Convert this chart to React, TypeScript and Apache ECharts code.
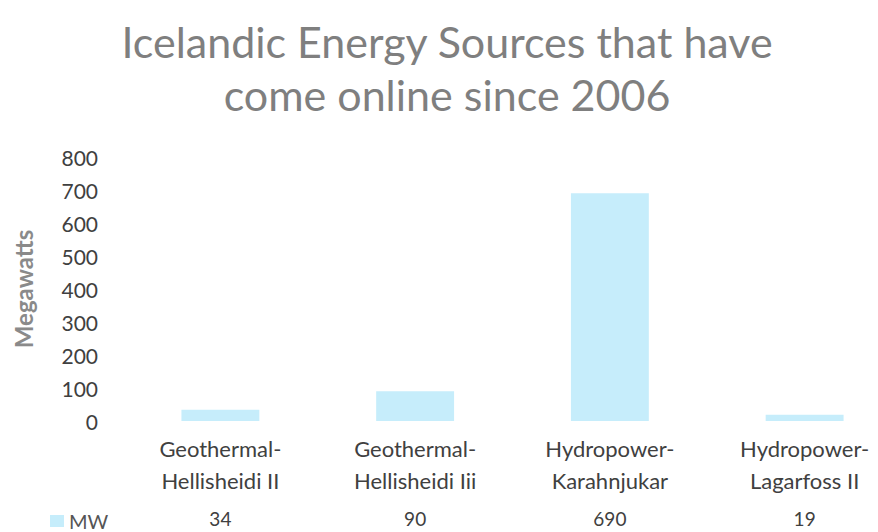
import React, { useEffect, useRef } from "react";
import * as echarts from "echarts";

const categories = [
  "Geothermal-\nHellisheidi II",
  "Geothermal-\nHellisheidi Iii",
  "Hydropower-\nKarahnjukar",
  "Hydropower-\nLagarfoss II",
];
const mwValues = [34, 90, 690, 19];
const yTicks = { min: 0, max: 800, interval: 100 };
const titleText = "Icelandic Energy Sources that have\ncome online since 2006";
const seriesName = "MW";

export default function App() {
  const ref = useRef<HTMLDivElement>(null);
  useEffect(() => {
    if (!ref.current) return;
    const chart = echarts.init(ref.current, null, { renderer: "svg" });
    const font = "Lato, 'Open Sans', sans-serif";
    chart.setOption({
      animation: false,
      backgroundColor: "#ffffff",
      title: {
        text: titleText,
        left: 442,
        textAlign: "center",
        top: 10,
        textStyle: {
          fontFamily: font,
          fontSize: 43,
          fontWeight: "normal",
          color: "#7f7f7f",
          lineHeight: 53,
        },
      },
      legend: {
        data: [seriesName],
        left: 50,
        top: 511,
        padding: 0,
        icon: "rect",
        itemWidth: 14,
        itemHeight: 12,
        itemGap: 6,
        textStyle: { fontFamily: font, fontSize: 20, color: "#555", lineHeight: 20 },
      },
      grid: { left: 123, right: 0, top: 157, bottom: 111, containLabel: false },
      xAxis: [
        {
          type: "category",
          data: categories,
          axisLine: { show: false },
          axisTick: { show: false },
          axisLabel: {
            fontFamily: font,
            fontSize: 22,
            color: "#404040",
            lineHeight: 32,
            margin: 11,
            interval: 0,
          },
        },
        {
          type: "category",
          position: "bottom",
          offset: 80,
          data: mwValues.map(String),
          axisLine: { show: false },
          axisTick: { show: false },
          axisLabel: { fontFamily: font, fontSize: 19, lineHeight: 19, color: "#404040", interval: 0 },
        },
      ],
      yAxis: {
        type: "value",
        min: yTicks.min,
        max: yTicks.max,
        interval: yTicks.interval,
        name: "Megawatts",
        nameLocation: "middle",
        nameGap: 88,
        nameRotate: 90,
        nameTextStyle: { fontFamily: font, fontSize: 24, color: "#8a8a8a", fontWeight: "bold" },
        axisLine: { show: false },
        axisTick: { show: false },
        splitLine: { show: false },
        axisLabel: { fontFamily: font, fontSize: 21, color: "#404040", margin: 25 },
      },
      series: [
        {
          name: seriesName,
          type: "bar",
          data: mwValues,
          xAxisIndex: 0,
          barWidth: "40%",
          itemStyle: { color: "#c6edfb" },
        },
      ],
    });
    return () => chart.dispose();
  }, []);
  return (
    <div style={{ position: "absolute", left: 0, top: 0, width: 878, height: 532, overflow: "hidden" }}>
      <div ref={ref} style={{ width: 902, height: 532 }} />
    </div>
  );
}
